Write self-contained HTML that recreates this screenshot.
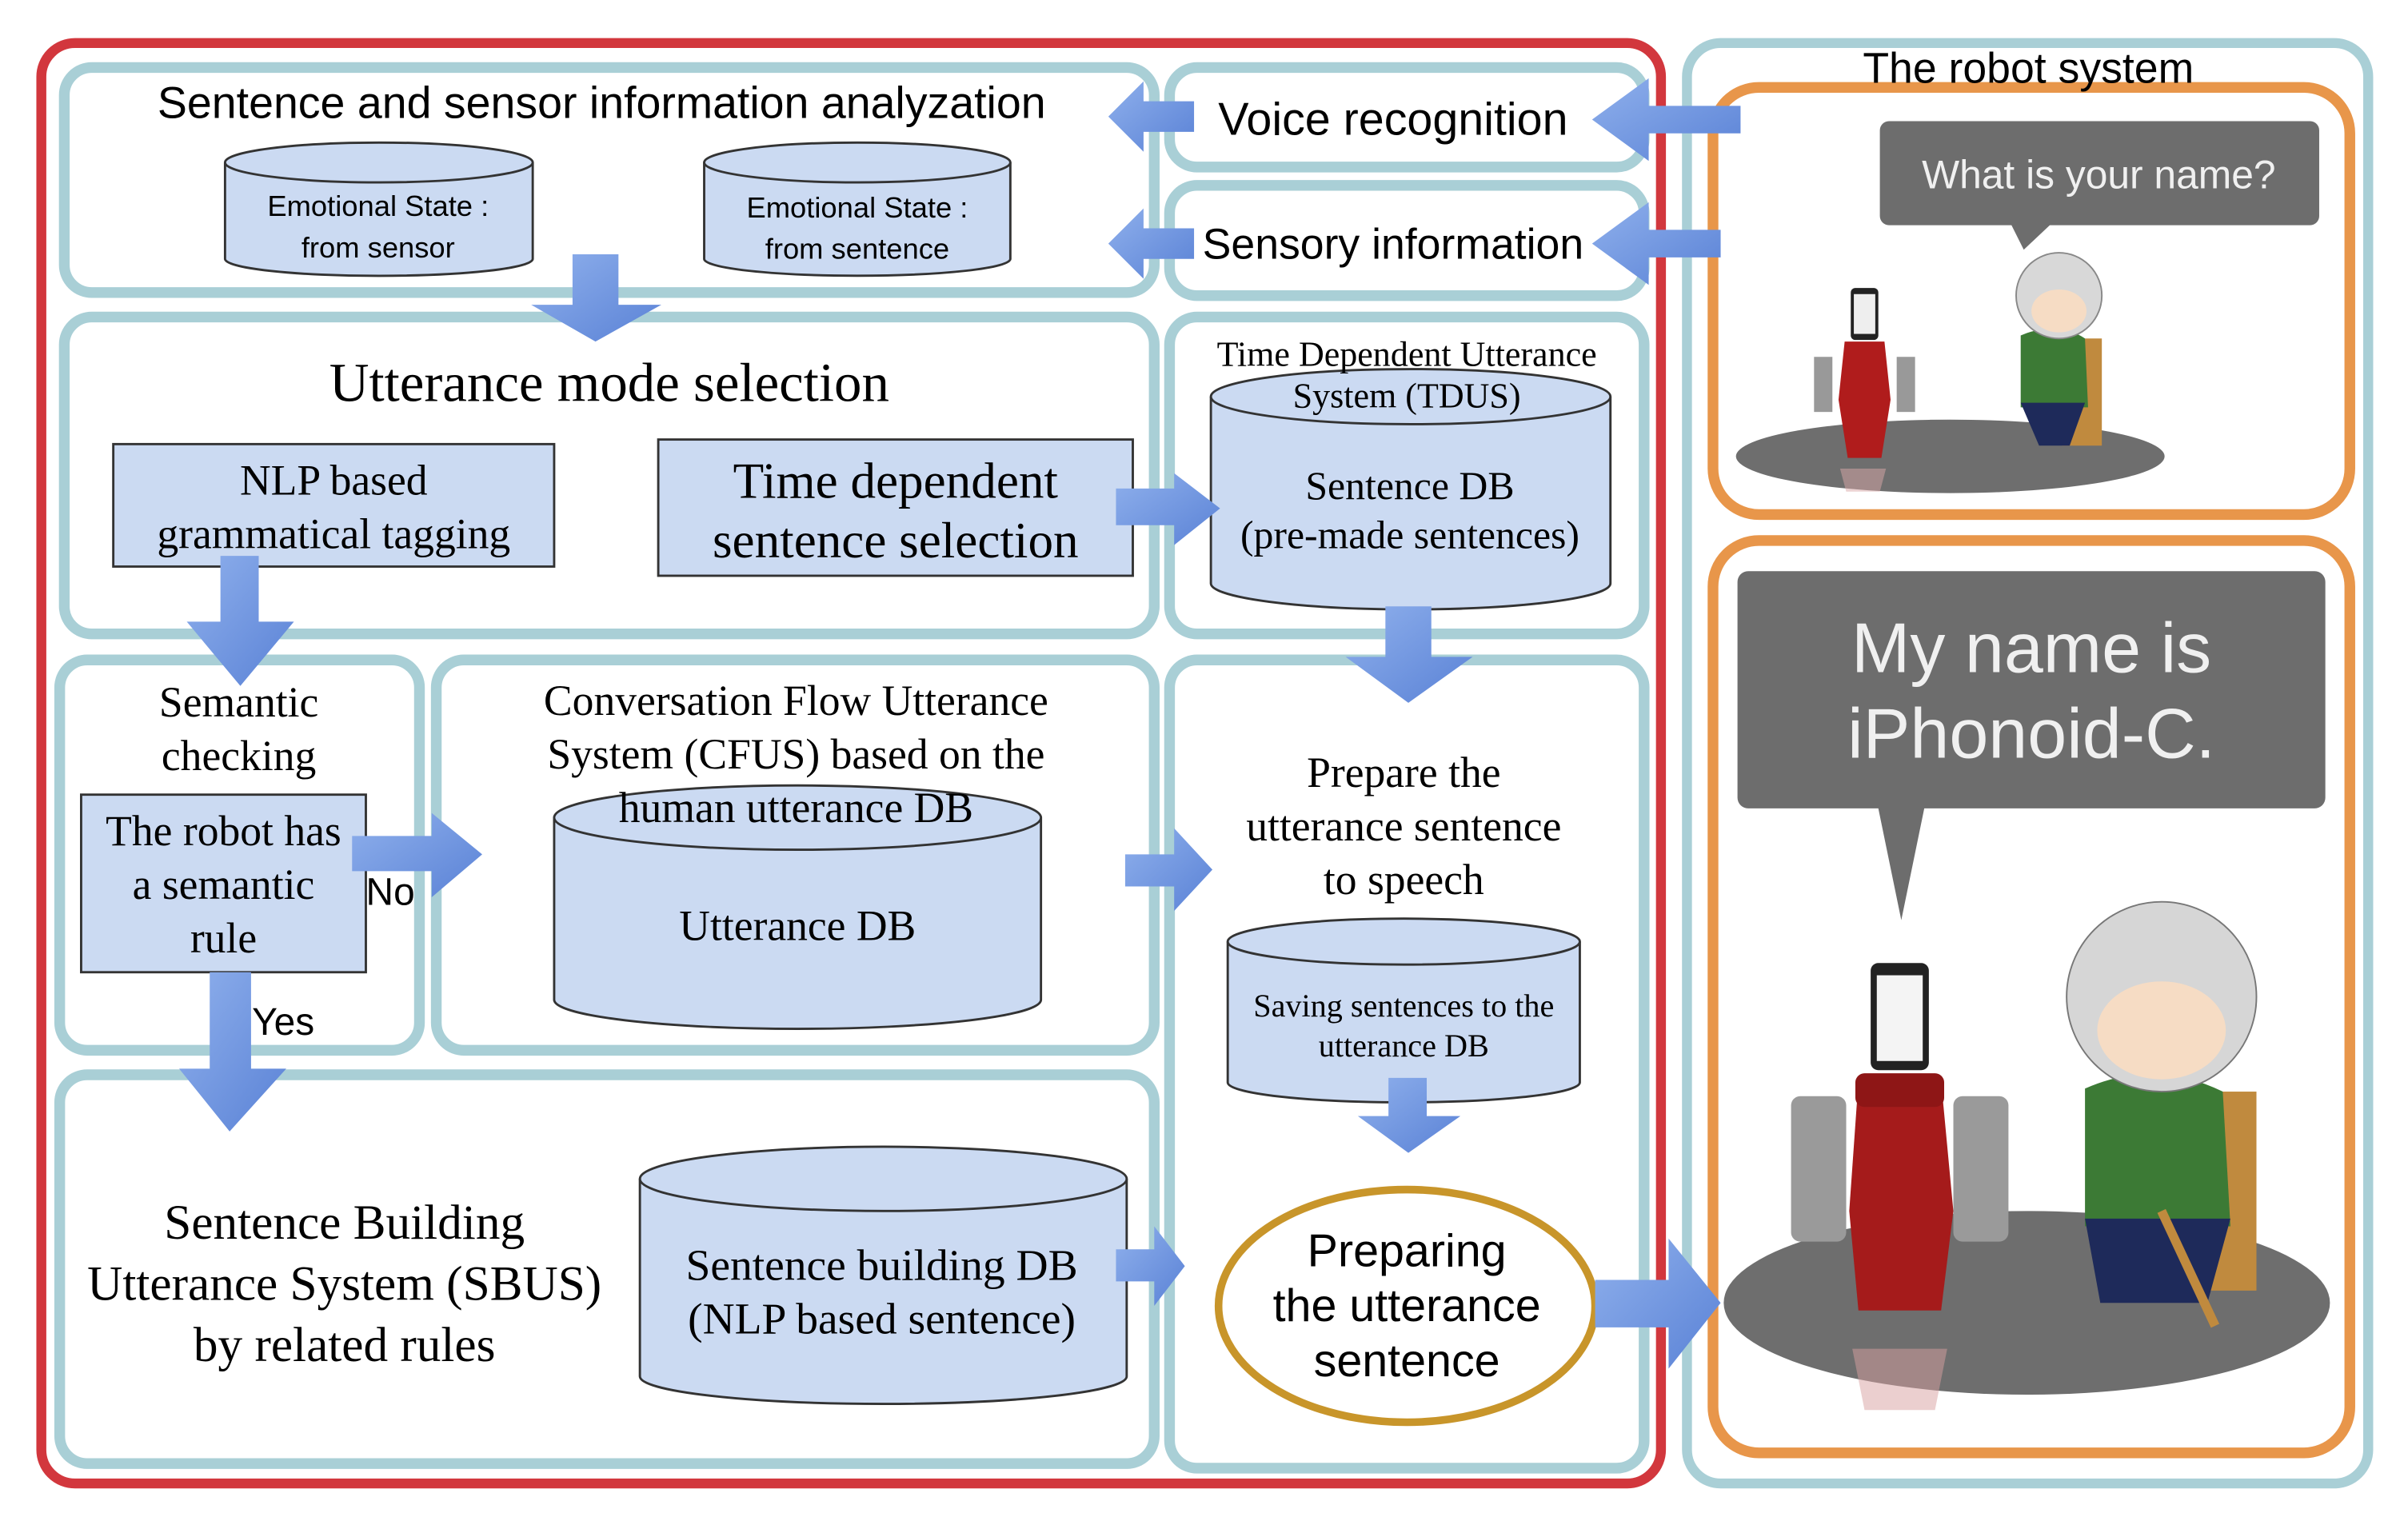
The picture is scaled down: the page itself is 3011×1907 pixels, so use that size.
<!DOCTYPE html>
<html><head><meta charset="utf-8"><style>
html,body{margin:0;padding:0;background:#fff;}
svg{display:block;}
.s{font-family:"Liberation Sans",sans-serif;}
.r{font-family:"Liberation Serif",serif;}
</style></head><body>
<svg width="3011" height="1907" viewBox="-2 -1 1573 996" xmlns="http://www.w3.org/2000/svg">
<defs>
<linearGradient id="ag" x1="0" y1="0" x2="1" y2="1"><stop offset="0" stop-color="#8fb0ec"/><stop offset="1" stop-color="#5a82d6"/></linearGradient>
</defs>
<rect x="-2" y="-1" width="1573" height="996" fill="#fff"/>
<!-- outer frames -->
<rect x="25" y="27" width="1058" height="941" rx="22" fill="none" stroke="#d2373d" stroke-width="6.5"/>
<rect x="1100" y="27" width="445" height="941" rx="22" fill="none" stroke="#a9cfd6" stroke-width="6.5"/>
<rect x="1117" y="56" width="416" height="279" rx="30" fill="none" stroke="#e8964a" stroke-width="7"/>
<rect x="1117" y="352" width="416" height="596" rx="30" fill="none" stroke="#e8964a" stroke-width="7"/>
<g fill="#fff" stroke="#a9cfd6" stroke-width="7">
<rect x="40" y="43" width="712" height="147" rx="18"/>
<rect x="762" y="43" width="310" height="65" rx="18"/>
<rect x="762" y="120" width="310" height="72" rx="18"/>
<rect x="40" y="206" width="712" height="207" rx="18"/>
<rect x="762" y="206" width="310" height="207" rx="18"/>
<rect x="37" y="430" width="235" height="255" rx="18"/>
<rect x="283" y="430" width="469" height="255" rx="18"/>
<rect x="762" y="430" width="310" height="528" rx="18"/>
<rect x="37" y="701" width="715" height="254" rx="18"/>
</g>
<!-- cylinders -->
<g fill="#cbdaf2" stroke="#333" stroke-width="1.5">
<path d="M145,105 V168 A100,11 0 0 0 346,168 V105"/><ellipse cx="245.5" cy="105" rx="100.5" ry="13"/>
<path d="M458,105 V168 A100,11 0 0 0 658,168 V105"/><ellipse cx="558" cy="105" rx="100" ry="13"/>
<path d="M789,258 V380 A130.5,17 0 0 0 1050,380 V258"/><ellipse cx="919.5" cy="258" rx="130.5" ry="18"/>
<path d="M360,533 V652 A159,19 0 0 0 678,652 V533"/><ellipse cx="519" cy="533" rx="159" ry="21"/>
<path d="M800,614 V706 A115,13 0 0 0 1030,706 V614"/><ellipse cx="915" cy="614" rx="115" ry="15"/>
<path d="M416,769 V898 A159,18 0 0 0 734,898 V769"/><ellipse cx="575" cy="769" rx="159" ry="21"/>
<rect x="72" y="289" width="288" height="80"/>
<rect x="428" y="286" width="310" height="89"/>
<rect x="51" y="518" width="186" height="116"/>
</g>
<ellipse cx="917" cy="852" rx="123" ry="76" fill="#fff" stroke="#c8952a" stroke-width="5"/>
<!-- arrows -->
<g fill="url(#ag)">
<polygon points="778,65 745,65 745,52 722,75 745,98 745,85 778,85"/>
<polygon points="778,148 745,148 745,135 722,158 745,181 745,168 778,168"/>
<polygon points="1135,68 1075,68 1075,50 1038,77 1075,104 1075,86 1135,86"/>
<polygon points="1122,149 1075,149 1075,131 1038,158 1075,185 1075,167 1122,167"/>
<polygon points="372,165 402,165 402,198 430,198 387,222 345,198 372,198"/>
<polygon points="727,318 765,318 765,308 795,331 765,355 765,342 727,342"/>
<polygon points="142,362 167,362 167,405 190,405 155,447 120,405 142,405"/>
<polygon points="903,395 933,395 933,428 960,428 918,458 877,428 903,428"/>
<polygon points="228,545 280,545 280,530 313,557 280,585 280,568 228,568"/>
<polygon points="733,557 765,557 765,540 790,567 765,594 765,578 733,578"/>
<polygon points="135,634 162,634 162,697 185,697 148,738 115,697 135,697"/>
<polygon points="905,703 930,703 930,728 952,728 918,752 885,728 905,728"/>
<polygon points="727,815 752,815 752,800 772,826 752,852 752,836 727,836"/>
<polygon points="1040,835 1088,835 1088,808 1122,850 1088,893 1088,866 1040,866"/>
</g>
<!-- text -->
<g class="s" fill="#000" text-anchor="middle">
<text x="391" y="76" font-size="29">Sentence and sensor information analyzation</text>
<text x="908" y="87" font-size="30">Voice recognition</text>
<text x="908" y="168" font-size="28">Sensory information</text>
<text x="245" y="140" font-size="19">Emotional State :</text>
<text x="245" y="167" font-size="19">from sensor</text>
<text x="558" y="141" font-size="19">Emotional State :</text>
<text x="558" y="168" font-size="19">from sentence</text>
<text x="253" y="590" font-size="25">No</text>
<text x="183" y="675" font-size="25">Yes</text>
<text x="917" y="826" font-size="30">Preparing</text>
<text x="917" y="862" font-size="30">the utterance</text>
<text x="917" y="898" font-size="30">sentence</text>
<text x="1323" y="53" font-size="28">The robot system</text>
</g>
<g class="r" fill="#000" text-anchor="middle">
<text x="396" y="261" font-size="36">Utterance mode selection</text>
<text x="216" y="322" font-size="28">NLP based</text>
<text x="216" y="357" font-size="28">grammatical tagging</text>
<text x="583" y="324" font-size="33">Time dependent</text>
<text x="583" y="363" font-size="33">sentence selection</text>
<text x="917" y="238" font-size="23">Time Dependent Utterance</text>
<text x="917" y="265" font-size="23">System (TDUS)</text>
<text x="919" y="325" font-size="26">Sentence DB</text>
<text x="919" y="357" font-size="26">(pre-made sentences)</text>
<text x="154" y="467" font-size="28">Semantic</text>
<text x="154" y="502" font-size="28">checking</text>
<text x="144" y="551" font-size="28">The robot has</text>
<text x="144" y="586" font-size="28">a semantic</text>
<text x="144" y="621" font-size="28">rule</text>
<text x="518" y="466" font-size="28">Conversation Flow Utterance</text>
<text x="518" y="501" font-size="28">System (CFUS)  based on the</text>
<text x="518" y="536" font-size="28">human utterance DB</text>
<text x="519" y="613" font-size="28">Utterance DB</text>
<text x="915" y="513" font-size="28">Prepare the</text>
<text x="915" y="548" font-size="28">utterance sentence</text>
<text x="915" y="583" font-size="28">to speech</text>
<text x="915" y="663" font-size="21">Saving sentences to the</text>
<text x="915" y="689" font-size="21">utterance DB</text>
<text x="223" y="808" font-size="32">Sentence Building</text>
<text x="223" y="848" font-size="32">Utterance System (SBUS)</text>
<text x="223" y="888" font-size="32">by related rules</text>
<text x="574" y="835" font-size="29">Sentence building DB</text>
<text x="574" y="870" font-size="29">(NLP based sentence)</text>
</g>
<!-- speech bubbles -->
<g fill="#6d6d6d">
<path d="M1232,78 H1507 a6,6 0 0 1 6,6 V140 a6,6 0 0 1 -6,6 H1337 L1320,162 L1312,146 H1232 a6,6 0 0 1 -6,-6 V84 a6,6 0 0 1 6,-6Z"/>
<path d="M1140,372 H1510 a7,7 0 0 1 7,7 V520 a7,7 0 0 1 -7,7 H1255 L1240,600 L1225,527 H1140 a7,7 0 0 1 -7,-7 V379 a7,7 0 0 1 7,-7Z"/>
</g>
<g class="s" fill="#f0f0f0" text-anchor="middle">
<text x="1369" y="122" font-size="26">What is your name?</text>
<text x="1325" y="438" font-size="46">My name is</text>
<text x="1325" y="494" font-size="46">iPhonoid-C.</text>
</g>
<!-- scenes -->
<ellipse cx="1272" cy="297" rx="140" ry="24" fill="#6e6e6e"/>
<ellipse cx="1322" cy="850" rx="198" ry="60" fill="#6e6e6e"/>
<g>
<rect x="1207" y="187" width="18" height="34" rx="3" fill="#222"/>
<rect x="1209" y="191" width="14" height="26" fill="#eee"/>
<path d="M1203,222 H1229 L1233,260 L1227,298 H1205 L1199,260Z" fill="#b01c1c"/>
<rect x="1183" y="232" width="12" height="36" fill="#999"/>
<rect x="1237" y="232" width="12" height="36" fill="#999"/>
<path d="M1200,305 H1230 L1226,320 H1204Z" fill="#d9a7a7" opacity=".5"/>
</g>
<g>
<rect x="1345" y="220" width="26" height="70" fill="#c08a3e"/>
<path d="M1318,218 Q1342,208 1360,220 L1362,265 H1318Z" fill="#3c7a35"/>
<path d="M1318,262 H1360 L1350,290 H1330Z" fill="#1e2a5a"/>
<circle cx="1343" cy="192" r="28" fill="#d8d8d8" stroke="#888"/>
<ellipse cx="1343" cy="202" rx="18" ry="14" fill="#f6dcc4"/>
</g>
<g>
<rect x="1220" y="628" width="38" height="70" rx="5" fill="#222"/>
<rect x="1224" y="636" width="30" height="56" fill="#f4f4f4"/>
<path d="M1212,705 H1266 L1274,790 L1266,855 H1212 L1206,790Z" fill="#a51b1b"/>
<rect x="1210" y="700" width="58" height="22" rx="6" fill="#8e1616"/>
<rect x="1168" y="715" width="36" height="95" rx="6" fill="#9a9a9a"/>
<rect x="1274" y="715" width="36" height="95" rx="6" fill="#9a9a9a"/>
<path d="M1208,880 H1270 L1262,920 H1216Z" fill="#d8a0a0" opacity=".5"/>
</g>
<g>
<rect x="1420" y="712" width="52" height="130" fill="#c08a3e"/>
<path d="M1360,710 Q1405,690 1450,712 L1455,800 H1360Z" fill="#3c7a35"/>
<path d="M1360,795 H1455 L1440,850 H1370Z" fill="#1e2a5a"/>
<circle cx="1410" cy="650" r="62" fill="#d6d6d6" stroke="#777"/>
<ellipse cx="1410" cy="672" rx="42" ry="32" fill="#f6dcc4"/>
<line x1="1410" y1="790" x2="1445" y2="865" stroke="#c08a3e" stroke-width="6"/>
</g>
</svg>
</body></html>
